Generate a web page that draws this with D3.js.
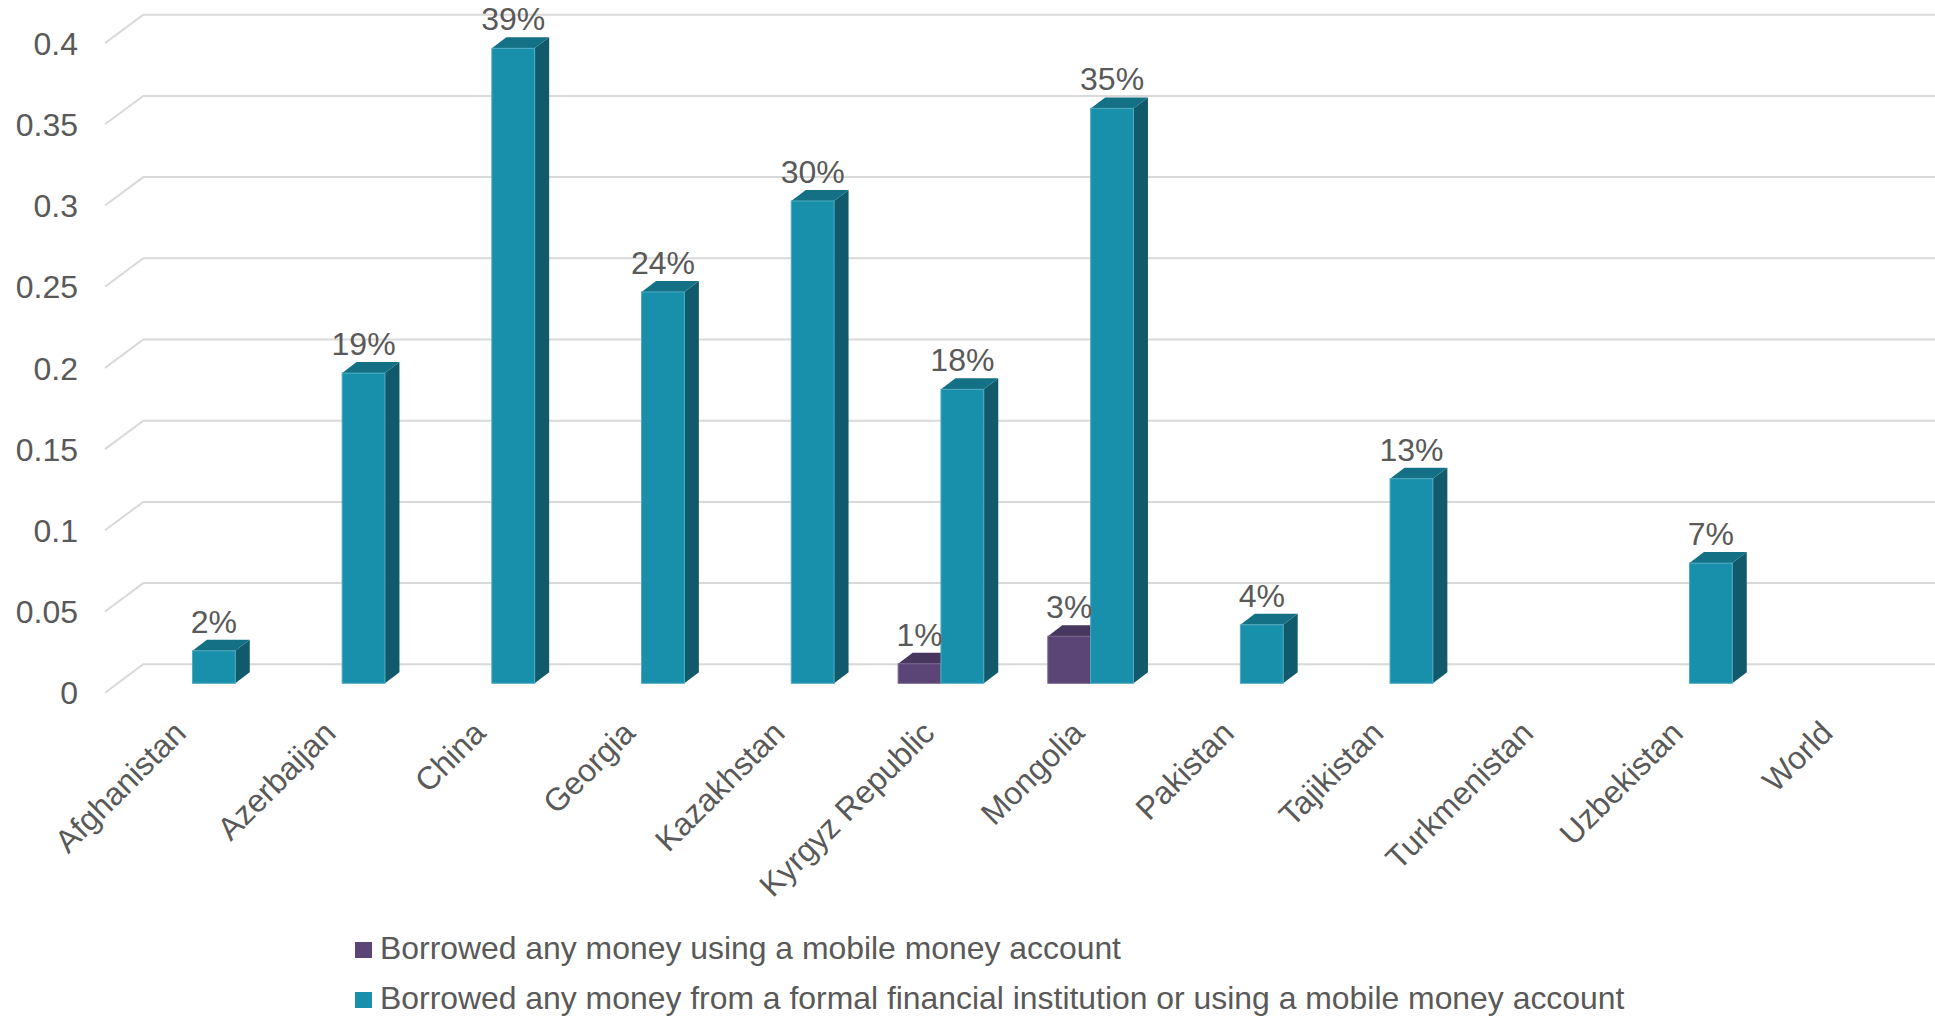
<!DOCTYPE html>
<html>
<head>
<meta charset="utf-8">
<script src="https://cdn.jsdelivr.net/npm/d3@7"></script>
<style>
  html, body { margin: 0; padding: 0; background: #ffffff; }
  svg { display: block; }
  text { font-family: "Liberation Sans", Arial, sans-serif; fill: #595959; }
</style>
</head>
<body>
<script>
// Countries along the category axis
const categories = ["Afghanistan", "Azerbaijan", "China", "Georgia", "Kazakhstan",
  "Kyrgyz Republic", "Mongolia", "Pakistan", "Tajikistan", "Turkmenistan", "Uzbekistan", "World"];

// Share of adults who borrowed using a mobile money account (null = no data)
const mobileValues = [null, null, null, null, null, 0.012, 0.029, null, null, null, null, null];

// Share of adults who borrowed from a formal institution or via mobile money (null = no data)
const formalValues = [0.020, 0.191, 0.391, 0.241, 0.297, 0.181, 0.354, 0.036, 0.126, null, 0.074, null];

const seriesNames = [
  "Borrowed any money using a mobile money account",
  "Borrowed any money from a formal financial institution or using a mobile money account"
];

const yTicks = [0, 0.05, 0.1, 0.15, 0.2, 0.25, 0.3, 0.35, 0.4];

const W = 1935, H = 1023;
const svg = d3.select("body").append("svg").attr("width", W).attr("height", H);

// Front plane of the plot area
const plotLeft = 105, plotRight = 1901.4;
const floorDepth = { dx: 38.3, dy: -28.4 };   // oblique offset of the back wall
const barFront = { dx: 12.6, dy: -9.4 };      // where the bar front faces sit in depth
const barDepth = { dx: 14.5, dy: -11 };       // thickness of each bar

const x = d3.scaleBand().domain(categories).range([plotLeft, plotRight])
  .paddingInner(0.428).paddingOuter(0.214);
const xSeries = d3.scaleBand().domain([0, 1]).range([0, x.bandwidth()]);
const y = d3.scaleLinear().domain([0, 0.4]).range([692.7, 43.1]);

const colors = [
  { front: "#5b4577", top: "#47375e", side: "#3d2f52", edge: "#76658c" },
  { front: "#1890ab", top: "#137085", side: "#105a6b", edge: "#4eaac0" }
];

// Gridlines: short diagonal on the side wall, then across the back wall
const grid = svg.append("g");
yTicks.forEach(t => {
  const y0 = y(t);
  grid.append("path")
    .attr("d", `M${plotLeft},${y0}L${plotLeft + floorDepth.dx},${y0 + floorDepth.dy}H${W}`)
    .attr("fill", "none").attr("stroke", "#d9d9d9").attr("stroke-width", 2);
});

// Value axis labels
const yAxis = d3.axisLeft(y).tickValues(yTicks).tickSize(0).tickPadding(0)
  .tickFormat(d3.format(""));
const yG = svg.append("g").attr("transform", "translate(78,0)").call(yAxis);
yG.select(".domain").remove();
yG.selectAll("text")
  .attr("font-size", 32).attr("fill", "#595959")
  .attr("font-family", "Liberation Sans, Arial, sans-serif")
  .attr("dy", "0.35em");

// 3D-style bars
const bars = svg.append("g");
const labels = svg.append("g");
const pct = d3.format(".0%");

function drawBar(cat, si, v) {
  const c = colors[si];
  const w = xSeries.bandwidth();
  const x0 = x(cat) + xSeries(si) + barFront.dx;
  const yTop = y(v) + barFront.dy;
  const yBot = y(0) + barFront.dy;
  const dx = barDepth.dx, dy = barDepth.dy;
  const g = bars.append("g");
  g.append("polygon")
    .attr("points", [[x0 + w, yTop], [x0 + w + dx, yTop + dy], [x0 + w + dx, yBot + dy], [x0 + w, yBot]].join(" "))
    .attr("fill", c.side);
  g.append("polygon")
    .attr("points", [[x0, yTop], [x0 + dx, yTop + dy], [x0 + w + dx, yTop + dy], [x0 + w, yTop]].join(" "))
    .attr("fill", c.top);
  g.append("rect")
    .attr("x", x0).attr("y", yTop).attr("width", w).attr("height", yBot - yTop)
    .attr("fill", c.front).attr("stroke", c.edge).attr("stroke-width", 1);
  labels.append("text")
    .attr("x", x0 + w / 2).attr("y", yTop - 18)
    .attr("text-anchor", "middle").attr("font-size", 32)
    .text(pct(v));
}

categories.forEach((cat, i) => {
  if (mobileValues[i] != null) drawBar(cat, 0, mobileValues[i]);
  if (formalValues[i] != null) drawBar(cat, 1, formalValues[i]);
});

// Category labels, rotated 45 degrees
const xLab = svg.append("g");
categories.forEach(cat => {
  const cx = x(cat) + x.bandwidth() / 2 + 8;
  xLab.append("text")
    .attr("transform", `translate(${cx},735) rotate(-45)`)
    .attr("text-anchor", "end").attr("font-size", 32)
    .text(cat);
});

// Legend
const legend = svg.append("g");
seriesNames.forEach((name, i) => {
  const baseY = 959 + i * 50;
  legend.append("rect")
    .attr("x", 355).attr("y", baseY - 17).attr("width", 17).attr("height", 16)
    .attr("fill", colors[i].front);
  legend.append("text")
    .attr("x", 380).attr("y", baseY).attr("font-size", 31.9)
    .text(name);
});
</script>
</body>
</html>
